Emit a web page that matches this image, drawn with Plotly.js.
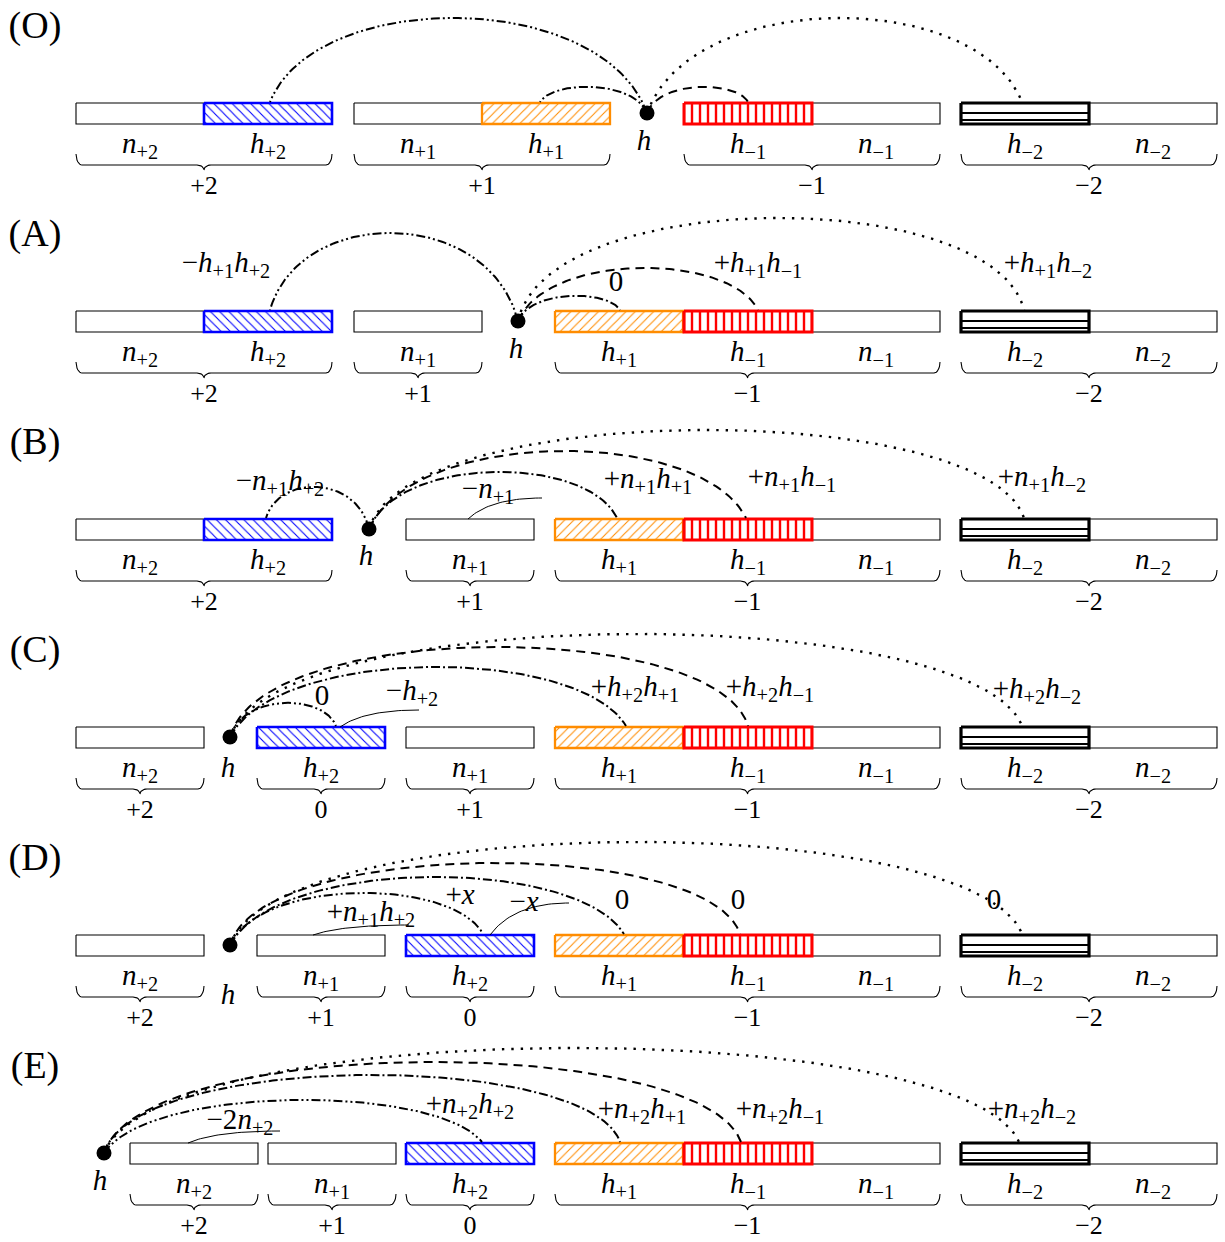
<!DOCTYPE html>
<html><head><meta charset="utf-8">
<script src="https://cdn.plot.ly/plotly-3.0.1.min.js"></script>
<style>html,body{margin:0;padding:0;background:#fff}</style>
</head><body><div id="chart" style="width:1225px;height:1242px"></div>
<script>
// ---------- data ----------
const panelLabels = ['(O)','(A)','(B)','(C)','(D)','(E)'];
const rowTop = [103,311,519,727,935,1143];
const boxNames = [
  ['n+2','h+2','n+1','h+1','h-1','n-1','h-2','n-2'],
  ['n+2','h+2','n+1','h+1','h-1','n-1','h-2','n-2'],
  ['n+2','h+2','n+1','h+1','h-1','n-1','h-2','n-2'],
  ['n+2','h+2','n+1','h+1','h-1','n-1','h-2','n-2'],
  ['n+2','n+1','h+2','h+1','h-1','n-1','h-2','n-2'],
  ['n+2','n+1','h+2','h+1','h-1','n-1','h-2','n-2']
];
const boxLeft = [
  [76,204,354,482,684,812,961,1089],
  [76,204,354,555,684,812,961,1089],
  [76,204,406,555,684,812,961,1089],
  [76,257,406,555,684,812,961,1089],
  [76,257,406,555,684,812,961,1089],
  [130,268,406,555,684,812,961,1089]
];
const dotX = [647,518,369,230,230,104];
const hLabelX = [644,516,366,228,228,100];
const hLabelY = [143,351,558,770,997,1183];
const braceFrom = [[76,354,684,961],[76,354,555,961],[76,406,555,961],[76,257,406,555,961],[76,257,406,555,961],[130,268,406,555,961]];
const braceTo   = [[332,610,940,1217],[332,482,940,1217],[332,534,940,1217],[204,385,534,940,1217],[204,385,534,940,1217],[258,396,534,940,1217]];
const braceLabels = [['+2','+1','−1','−2'],['+2','+1','−1','−2'],['+2','+1','−1','−2'],['+2','0','+1','−1','−2'],['+2','+1','0','−1','−2'],['+2','+1','0','−1','−2']];
const arcTargets = ['h+2','h+1','h-1','h-2'];
const arcEndX  = [[270,540,748,1022],[270,620,758,1024],[266,617,746,1024],[336,626,748,1022],[483,624,740,1022],[482,620,741,1019]];
const arcPeakY = [[18,87,87,18],[233,296,268,218],[487,472,451,430],[703,667,647,634],[893,877,863,842],[1100,1075,1062,1048]];
const arcLabelText = [
  [],
  ['−h_{+1}h_{+2}','0','+h_{+1}h_{−1}','+h_{+1}h_{−2}'],
  ['−n_{+1}h_{+2}','−n_{+1}','+n_{+1}h_{+1}','+n_{+1}h_{−1}','+n_{+1}h_{−2}'],
  ['0','−h_{+2}','+h_{+2}h_{+1}','+h_{+2}h_{−1}','+h_{+2}h_{−2}'],
  ['+n_{+1}h_{+2}','+x','−x','0','0','0'],
  ['−2n_{+2}','+n_{+2}h_{+2}','+n_{+2}h_{+1}','+n_{+2}h_{−1}','+n_{+2}h_{−2}']
];
const arcLabelX = [[],[226,616,758,1048],[280,488,648,792,1042],[322,412,635,770,1037],[371,460,524,622,738,994],[240,470,642,780,1032]];
const arcLabelY = [[],[265,284,265,265],[483,491,481,479,479],[698,693,689,689,691],[914,897,904,902,902,902],[1122,1106,1111,1111,1111]];
const leaderFromX = [[],[],[468],[340],[313,490],[188]];
const leaderFromY = [[],[],[519],[727],[935,935],[1143]];
const leaderToX   = [[],[],[542],[419],[409,569],[280]];
const leaderToY   = [[],[],[498],[710],[925,903],[1131]];

// ---------- styling helpers ----------
const BOXW = 128, BOXH = 21;
const FONT = 'Liberation Serif, DejaVu Serif, serif';
const FS = 29;
function tex(s){
  return s.replace(/([a-z])/g,'<i>$1</i>').replace(/_\{([^}]*)\}/g,'<sub>$1</sub>');
}
function nameTex(n){ return tex(n[0] + '_{' + n.slice(1).replace('-','−') + '}'); }
const boxStyle = {
  'h+2': {line:'#0000ff', w:2.6, pat:{shape:'\\', fgcolor:'#0000ff', bgcolor:'white', size:6.5, solidity:0.17}},
  'h+1': {line:'#ff8c00', w:2.3, pat:{shape:'/', fgcolor:'#ff8c00', bgcolor:'white', size:6.5, solidity:0.16}},
  'h-1': {line:'#ff0000', w:3, pat:{shape:'|', fgcolor:'#ff0000', bgcolor:'white', size:8, solidity:0.3}},
  'h-2': {line:'#000000', w:3.2, pat:null},
  'n':   {line:'#000000', w:1.1, pat:null}
};
const arcDash = {'h+2':'9px,3px,2px,3px,2px,3px','h+1':'9px,3px,2px,3px','h-1':'9px,6px','h-2':'2.4px,7px'};
const arcWidth = {'h+2':2,'h+1':2,'h-1':2,'h-2':2.4};

const traces = [];
// boxes: plain first, then coloured
for (let pass=0; pass<2; pass++){
  boxNames.forEach((names,p)=>{
    const T = rowTop[p];
    names.forEach((nm,i)=>{
      const plain = nm[0]==='n';
      if ((pass===0) !== plain) return;
      const st = plain ? boxStyle['n'] : boxStyle[nm];
      const x0 = boxLeft[p][i], x1 = x0 + BOXW;
      const tr = {type:'scatter', mode:'lines', x:[x0,x1,x1,x0,x0], y:[T,T,T+BOXH,T+BOXH,T],
        fill:'toself', fillcolor:'white', line:{color:st.line, width:st.w}, hoverinfo:'skip'};
      if (st.pat) tr.fillpattern = st.pat;
      traces.push(tr);
      if (nm==='h-2'){
        traces.push({type:'scatter', mode:'lines', x:[x0,x1,null,x0,x1], y:[T+10,T+10,null,T+17,T+17],
          line:{color:'#000', width:2.2}, hoverinfo:'skip'});
      }
    });
  });
}
// box labels
{
  const xs=[], ys=[], ts=[];
  boxNames.forEach((names,p)=>names.forEach((nm,i)=>{
    xs.push(boxLeft[p][i]+BOXW/2); ys.push(rowTop[p]+43); ts.push(nameTex(nm));
  }));
  traces.push({type:'scatter', mode:'text', x:xs, y:ys, text:ts, textposition:'middle center',
    textfont:{family:FONT, size:FS, color:'#000'}, hoverinfo:'skip', cliponaxis:false});
}
// braces
{
  const bx=[], by=[], lx=[], ly=[], lt=[];
  braceFrom.forEach((arr,p)=>{
    const T = rowTop[p];
    const yTop=T+51, yLine=T+62, yTip=T+67, r=6, rm=7;
    arr.forEach((x0,i)=>{
      const x1 = braceTo[p][i], xm=(x0+x1)/2;
      const N=8;
      for(let k=0;k<=N;k++){const f=k/N*Math.PI/2; bx.push(x0+r*(1-Math.cos(f))); by.push(yTop+(yLine-yTop)*Math.sin(f));}
      for(let k=0;k<=N;k++){const f=k/N*Math.PI/2; bx.push(xm-rm+rm*Math.sin(f)); by.push(yLine+(yTip-yLine)*(1-Math.cos(f)));}
      for(let k=0;k<=N;k++){const f=k/N*Math.PI/2; bx.push(xm+rm-rm*Math.cos(f)); by.push(yTip-(yTip-yLine)*Math.sin(f));}
      for(let k=0;k<=N;k++){const f=k/N*Math.PI/2; bx.push(x1-r+r*Math.sin(f)); by.push(yLine-(yLine-yTop)*(1-Math.cos(f)));}
      bx.push(null); by.push(null);
      lx.push(xm); ly.push(T+84); lt.push(braceLabels[p][i]);
    });
  });
  traces.push({type:'scatter', mode:'lines', x:bx, y:by, line:{color:'#000', width:1.1}, hoverinfo:'skip'});
  traces.push({type:'scatter', mode:'text', x:lx, y:ly, text:lt, textposition:'middle center',
    textfont:{family:FONT, size:26, color:'#000'}, hoverinfo:'skip', cliponaxis:false});
}
// arcs
arcTargets.forEach((tg,j)=>{
  const ax=[], ay=[];
  rowTop.forEach((T,p)=>{
    const x0=dotX[p], y0=T+10, x3=arcEndX[p][j], y3=T-1;
    const yc=(arcPeakY[p][j]-(y0+y3)/8)/0.75;
    const d=x3-x0, a=Math.abs(d)>450?0.06:0.12;
    const x1=x0+a*d, x2=x3-a*d;
    const N=120;
    for(let k=0;k<=N;k++){
      const t=k/N, u=1-t;
      ax.push(u*u*u*x0+3*u*u*t*x1+3*u*t*t*x2+t*t*t*x3);
      ay.push(u*u*u*y0+3*u*u*t*yc+3*u*t*t*yc+t*t*t*y3);
    }
    ax.push(null); ay.push(null);
  });
  traces.push({type:'scatter', mode:'lines', x:ax, y:ay, line:{color:'#000', width:arcWidth[tg], dash:arcDash[tg]}, hoverinfo:'skip'});
});
// leader lines
{
  const lx=[], ly=[];
  leaderFromX.forEach((arr,p)=>arr.forEach((x0,i)=>{
    const y0=leaderFromY[p][i], x1=leaderToX[p][i], y1=leaderToY[p][i];
    const cx=x0+0.3*(x1-x0), cy=y1;
    for(let k=0;k<=30;k++){const t=k/30,u=1-t; lx.push(u*u*x0+2*u*t*cx+t*t*x1); ly.push(u*u*y0+2*u*t*cy+t*t*y1);}
    lx.push(null); ly.push(null);
  }));
  traces.push({type:'scatter', mode:'lines', x:lx, y:ly, line:{color:'#000', width:1}, hoverinfo:'skip'});
}
// dots
traces.push({type:'scatter', mode:'markers', x:dotX, y:rowTop.map(T=>T+10),
  marker:{size:15, color:'#000'}, hoverinfo:'skip', cliponaxis:false});
// h labels
traces.push({type:'scatter', mode:'text', x:hLabelX, y:hLabelY, text:hLabelX.map(()=>'<i>h</i>'),
  textfont:{family:FONT, size:FS, color:'#000'}, hoverinfo:'skip', cliponaxis:false});
// arc labels
{
  const xs=[], ys=[], ts=[];
  arcLabelText.forEach((arr,p)=>arr.forEach((s,i)=>{xs.push(arcLabelX[p][i]); ys.push(arcLabelY[p][i]); ts.push(tex(s));}));
  traces.push({type:'scatter', mode:'text', x:xs, y:ys, text:ts, textposition:'middle center',
    textfont:{family:FONT, size:FS, color:'#000'}, hoverinfo:'skip', cliponaxis:false});
}
// panel labels
traces.push({type:'scatter', mode:'text', x:rowTop.map(()=>35), y:rowTop.map(T=>T-75), text:panelLabels,
  textfont:{family:FONT, size:38, color:'#000'}, hoverinfo:'skip', cliponaxis:false});

const layout = {
  width:1225, height:1242, margin:{l:0,r:0,t:0,b:0},
  paper_bgcolor:'white', plot_bgcolor:'white', showlegend:false, hovermode:false,
  xaxis:{range:[0,1225], visible:false, fixedrange:true},
  yaxis:{range:[1242,0], visible:false, fixedrange:true}
};
Plotly.newPlot('chart', traces, layout, {staticPlot:true, displayModeBar:false});
</script></body></html>
